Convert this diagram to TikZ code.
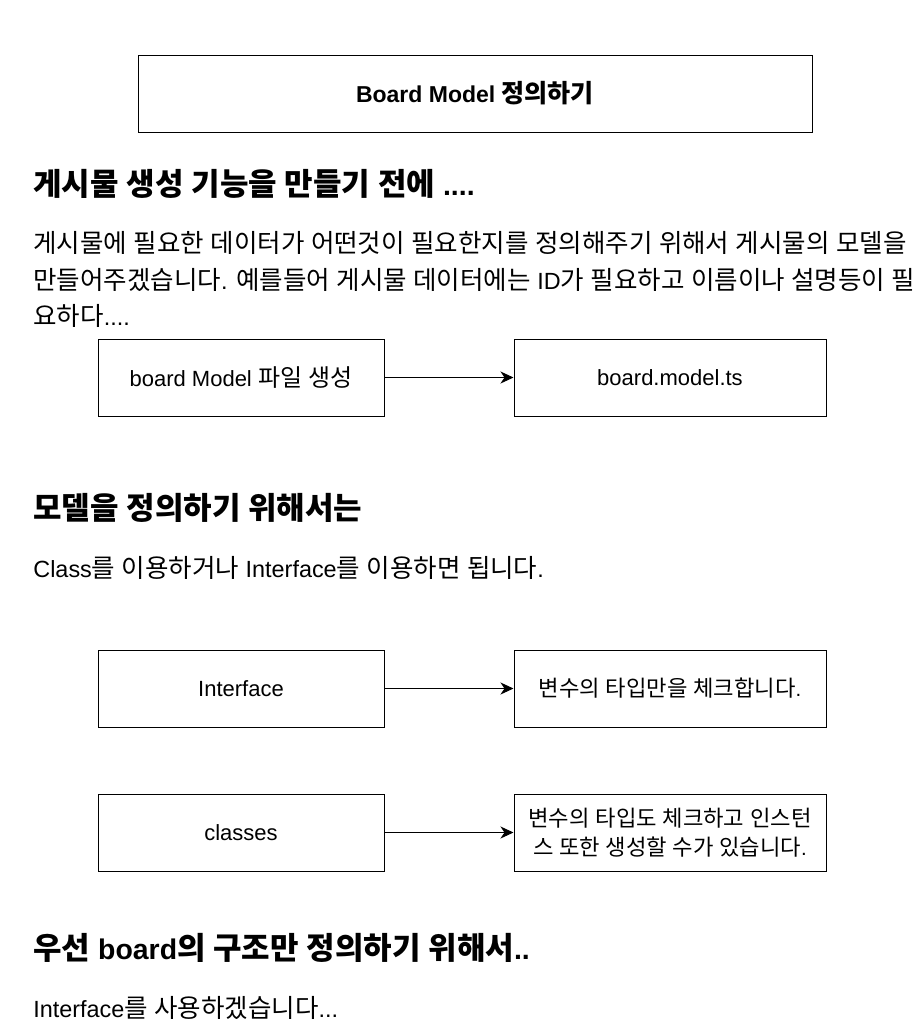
\documentclass[tikz,border=0pt]{standalone}
\usepackage{fontspec}
\setmainfont{Liberation Sans}
\newfontfamily\krfont[Scale=1.09]{Noto Sans CJK KR}
\newfontfamily\latfont{Liberation Sans}
% Hangul in Noto Sans CJK KR, the rest in Liberation Sans
\XeTeXinterchartokenstate=1
\newXeTeXintercharclass\krclass
\newcount\krc
\krc="AC00
\loop
  \XeTeXcharclass\krc=\krclass
  \ifnum\krc<"D7A3
  \advance\krc by 1
\repeat
\XeTeXinterchartoks 0 \krclass = {\krfont}
\XeTeXinterchartoks 4095 \krclass = {\krfont}
\XeTeXinterchartoks \krclass 0 = {\latfont}
\XeTeXinterchartoks \krclass 4095 = {\latfont}
\usetikzlibrary{positioning,%
  arrows.meta%
}

\begin{document}
\begin{tikzpicture}
                    [
                        x=0.5pt, y=-0.5pt,
                        box/.style={draw, line width=0.5pt, minimum width=143pt, minimum height=38.5pt, inner sep=0.5pt, align=center, font=\fontsize{11}{14.5}\selectfont},
                        widebox/.style={box, minimum width=156pt, font=\fontsize{10.2}{14.5}\selectfont},
                        heading/.style={anchor=west, inner sep=0pt, font=\fontsize{14.2}{17}\selectfont\bfseries},
                        bodyline/.style={anchor=west, inner sep=0pt, font=\fontsize{11.7}{14}\selectfont},
                        link/.style={-{Stealth[length=6.5pt,width=6pt,inset=2pt]}, line width=0.5pt}
                    ]

                    % Rahmen
                    \useasboundingbox (0,0) rectangle (918,1030);

                    \node[box, minimum width=337pt, font=\fontsize{11.5}{14}\selectfont\bfseries] (title) at (475,93.5) {Board Model 정의하기};

                    \node[heading] (head1) at (33,183.5) {게시물 생성 기능을 만들기 전에 ....};
                    \node[bodyline] (par1) at (33,243) {게시물에 필요한 데이터가 어떤것이 필요한지를 정의해주기 위해서 게시물의 모델을};
                    \node[bodyline] (par2) at (33,280) {만들어주겠습니다. 예를들어 게시물 데이터에는 ID가 필요하고 이름이나 설명등이 필};
                    \node[bodyline] (par3) at (33,316) {요하다....};

                    \node[box] (boardfile) at (241,377.5) {board Model 파일 생성};
                    \node[widebox, right=64.5pt of boardfile, font=\fontsize{11}{14.5}\selectfont] (boardts) {board.model.ts};
                    \draw[link] (boardfile) -- (boardts);

                    \node[heading] (head2) at (33,507.5) {모델을 정의하기 위해서는};
                    \node[bodyline] (par4) at (33,567.5) {Class를 이용하거나 Interface를 이용하면 됩니다.};

                    \node[box] (iface) at (241,688.5) {Interface};
                    \node[widebox, right=64.5pt of iface] (ifacenote) {변수의 타입만을 체크합니다.};
                    \draw[link] (iface) -- (ifacenote);

                    \node[box, below=33pt of iface] (cls) {classes};
                    \node[widebox, right=64.5pt of cls] (clsnote) {변수의 타입도 체크하고 인스턴\\스 또한 생성할 수가 있습니다.};
                    \draw[link] (cls) -- (clsnote);

                    \node[heading] (head3) at (33,948) {우선 board의 구조만 정의하기 위해서..};
                    \node[bodyline] (par5) at (33,1008) {Interface를 사용하겠습니다...};
                \end{tikzpicture}
\end{document}
